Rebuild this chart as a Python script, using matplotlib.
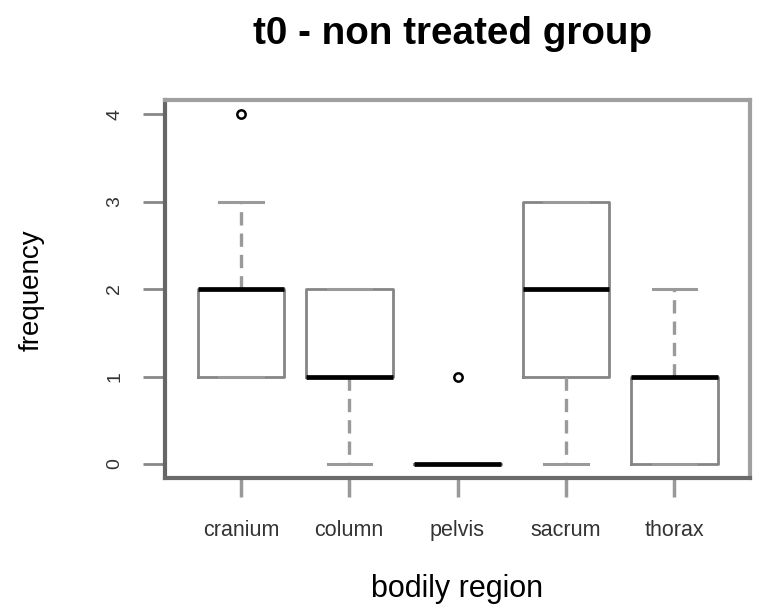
import matplotlib
matplotlib.use("Agg")
import matplotlib.pyplot as plt

plt.rcParams['font.family'] = ['Liberation Sans', 'DejaVu Sans']

# five-number summaries per region (t0, non treated)
regions = ["cranium", "column", "pelvis", "sacrum", "thorax"]
q1 = [1, 1, 0, 1, 0]
med = [2, 1, 0, 2, 1]
q3 = [2, 2, 0, 3, 1]
whislo = [1, 0, 0, 0, 0]
whishi = [3, 2, 0, 3, 2]
outliers = [[4], [], [1], [], []]

stats = []
for i, name in enumerate(regions):
    stats.append(dict(label=name, q1=q1[i], med=med[i], q3=q3[i],
                      whislo=whislo[i], whishi=whishi[i], fliers=outliers[i]))

fig = plt.figure(figsize=(7.66, 6.15), dpi=100)
ax = fig.add_axes([165 / 766, 1 - 478 / 615, (750 - 165) / 766, (478 - 100) / 615])

ax.bxp(stats, widths=0.8, showfliers=True,
       boxprops=dict(color="#858585", linewidth=2.0),
       medianprops=dict(color="black", linewidth=3.4, solid_capstyle="butt"),
       whiskerprops=dict(color="#9a9a9a", linewidth=2.4, linestyle=(0, (4.0, 2.4))),
       capprops=dict(color="#9a9a9a", linewidth=2.2),
       flierprops=dict(marker="o", markersize=6, markerfacecolor="white",
                       markeredgecolor="black", markeredgewidth=1.8))

ax.set_xlim(0.3, 5.7)
ax.set_ylim(-0.16, 4.16)
ax.set_yticks([0, 1, 2, 3, 4])
ax.set_yticklabels(["0", "1", "2", "3", "4"], rotation=90, va="center")

ax.tick_params(axis="y", length=16, width=2, color="#888888", pad=14,
               labelsize=14, labelcolor="#333333")
ax.tick_params(axis="x", length=14, width=2.5, color="#999999", pad=16,
               labelsize=15.5, labelcolor="#333333")

for side, col in [("left", "#666666"), ("bottom", "#6a6a6a"),
                  ("top", "#a0a0a0"), ("right", "#a0a0a0")]:
    ax.spines[side].set_color(col)
    ax.spines[side].set_linewidth(3)

fig.text(453 / 766, 1 - 34 / 615, "t0 - non treated group",
         ha="center", va="center", fontsize=27.8, fontweight="bold")
fig.text(457 / 766, 1 - 589 / 615, "bodily region",
         ha="center", va="center", fontsize=22)
fig.text(32 / 766, 1 - 290 / 615, "frequency",
         ha="center", va="center", rotation=90, fontsize=20)

fig.savefig("out.png", dpi=100)
